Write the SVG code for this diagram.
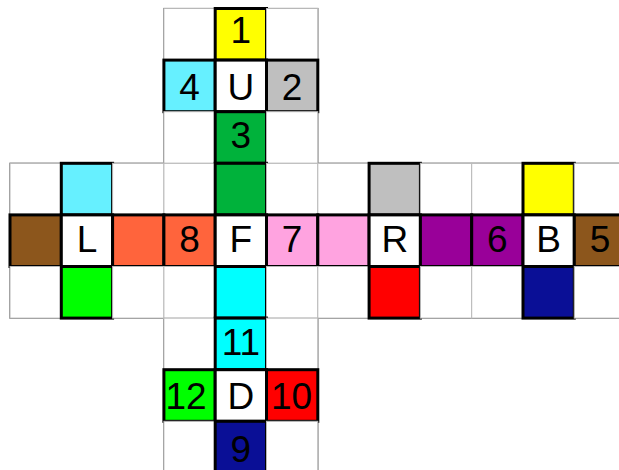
<svg xmlns="http://www.w3.org/2000/svg" width="619" height="470" viewBox="0 0 619 470">
<style>
.w{fill:#ffffff;stroke:#b8b8b8;stroke-width:1}
.c{stroke:#000;stroke-width:3}
.face{fill:none;stroke:#444;stroke-width:1.2}
text{font-family:"Liberation Sans",Arial,sans-serif;font-size:37px;fill:#000;text-anchor:middle}
.wc{fill:#fff}
.ye{fill:#ffff00}.lc{fill:#66f0ff}.gy{fill:#bfbfbf}.gr{fill:#00b23b}.br{fill:#8c561c}
.or{fill:#ff643c}.pk{fill:#ffa3e0}.pu{fill:#990099}.bg{fill:#00ff00}.cy{fill:#00ffff}
.rd{fill:#ff0000}.nv{fill:#0a0f96}
</style>
<g id="faces">
<rect class="face" x="163.9" y="8.5" width="153.9" height="154.8"/>
<rect class="face" x="10" y="163.3" width="615.6" height="154.8"/>
<rect class="face" x="163.9" y="318.1" width="153.9" height="154.8"/>
</g>
<!-- top face -->
<g id="u00"><rect class="w" x="163.9" y="8.5" width="51.3" height="51.6"/></g>
<g id="u01"><rect class="c ye" x="215.2" y="8.5" width="51.3" height="51.6"/><text x="240.85" y="42.5">1</text></g>
<g id="u02"><rect class="w" x="266.5" y="8.5" width="51.3" height="51.6"/></g>
<g id="u10"><rect class="c lc" x="163.9" y="60.1" width="51.3" height="51.6"/><text x="189.55" y="100">4</text></g>
<g id="u11"><rect class="c wc" x="215.2" y="60.1" width="51.3" height="51.6"/><text x="240.85" y="100">U</text></g>
<g id="u12"><rect class="c gy" x="266.5" y="60.1" width="51.3" height="51.6"/><text x="292.15" y="100">2</text></g>
<g id="u20"><rect class="w" x="163.9" y="111.7" width="51.3" height="51.6"/></g>
<g id="u21"><rect class="c gr" x="215.2" y="111.7" width="51.3" height="51.6"/><text x="240.85" y="148">3</text></g>
<g id="u22"><rect class="w" x="266.5" y="111.7" width="51.3" height="51.6"/></g>
<!-- row 3 -->
<g id="r3c0"><rect class="w" x="10" y="163.3" width="51.3" height="51.6"/></g>
<g id="r3c1"><rect class="c lc" x="61.3" y="163.3" width="51.3" height="51.6"/></g>
<g id="r3c2"><rect class="w" x="112.6" y="163.3" width="51.3" height="51.6"/></g>
<g id="r3c3"><rect class="w" x="163.9" y="163.3" width="51.3" height="51.6"/></g>
<g id="r3c4"><rect class="c gr" x="215.2" y="163.3" width="51.3" height="51.6"/></g>
<g id="r3c5"><rect class="w" x="266.5" y="163.3" width="51.3" height="51.6"/></g>
<g id="r3c6"><rect class="w" x="317.8" y="163.3" width="51.3" height="51.6"/></g>
<g id="r3c7"><rect class="c gy" x="369.1" y="163.3" width="51.3" height="51.6"/></g>
<g id="r3c8"><rect class="w" x="420.4" y="163.3" width="51.3" height="51.6"/></g>
<g id="r3c9"><rect class="w" x="471.7" y="163.3" width="51.3" height="51.6"/></g>
<g id="r3c10"><rect class="c ye" x="523" y="163.3" width="51.3" height="51.6"/></g>
<g id="r3c11"><rect class="w" x="574.3" y="163.3" width="51.3" height="51.6"/></g>
<!-- row 4 -->
<g id="r4c0"><rect class="c br" x="10" y="214.9" width="51.3" height="51.6"/></g>
<g id="r4c1"><rect class="c wc" x="61.3" y="214.9" width="51.3" height="51.6"/><text x="86.95" y="252">L</text></g>
<g id="r4c2"><rect class="c or" x="112.6" y="214.9" width="51.3" height="51.6"/></g>
<g id="r4c3"><rect class="c or" x="163.9" y="214.9" width="51.3" height="51.6"/><text x="189.55" y="252">8</text></g>
<g id="r4c4"><rect class="c wc" x="215.2" y="214.9" width="51.3" height="51.6"/><text x="240.85" y="252">F</text></g>
<g id="r4c5"><rect class="c pk" x="266.5" y="214.9" width="51.3" height="51.6"/><text x="292.15" y="252">7</text></g>
<g id="r4c6"><rect class="c pk" x="317.8" y="214.9" width="51.3" height="51.6"/></g>
<g id="r4c7"><rect class="c wc" x="369.1" y="214.9" width="51.3" height="51.6"/><text x="394.75" y="252">R</text></g>
<g id="r4c8"><rect class="c pu" x="420.4" y="214.9" width="51.3" height="51.6"/></g>
<g id="r4c9"><rect class="c pu" x="471.7" y="214.9" width="51.3" height="51.6"/><text x="497.35" y="252">6</text></g>
<g id="r4c10"><rect class="c wc" x="523" y="214.9" width="51.3" height="51.6"/><text x="548.65" y="252">B</text></g>
<g id="r4c11"><rect class="c br" x="574.3" y="214.9" width="51.3" height="51.6"/><text x="599.95" y="252">5</text></g>
<!-- row 5 -->
<g id="r5c0"><rect class="w" x="10" y="266.5" width="51.3" height="51.6"/></g>
<g id="r5c1"><rect class="c bg" x="61.3" y="266.5" width="51.3" height="51.6"/></g>
<g id="r5c2"><rect class="w" x="112.6" y="266.5" width="51.3" height="51.6"/></g>
<g id="r5c3"><rect class="w" x="163.9" y="266.5" width="51.3" height="51.6"/></g>
<g id="r5c4"><rect class="c cy" x="215.2" y="266.5" width="51.3" height="51.6"/></g>
<g id="r5c5"><rect class="w" x="266.5" y="266.5" width="51.3" height="51.6"/></g>
<g id="r5c6"><rect class="w" x="317.8" y="266.5" width="51.3" height="51.6"/></g>
<g id="r5c7"><rect class="c rd" x="369.1" y="266.5" width="51.3" height="51.6"/></g>
<g id="r5c8"><rect class="w" x="420.4" y="266.5" width="51.3" height="51.6"/></g>
<g id="r5c9"><rect class="w" x="471.7" y="266.5" width="51.3" height="51.6"/></g>
<g id="r5c10"><rect class="c nv" x="523" y="266.5" width="51.3" height="51.6"/></g>
<g id="r5c11"><rect class="w" x="574.3" y="266.5" width="51.3" height="51.6"/></g>
<!-- bottom face -->
<g id="d00"><rect class="w" x="163.9" y="318.1" width="51.3" height="51.6"/></g>
<g id="d01"><rect class="c cy" x="215.2" y="318.1" width="51.3" height="51.6"/><text x="240.85" y="355">11</text></g>
<g id="d02"><rect class="w" x="266.5" y="318.1" width="51.3" height="51.6"/></g>
<g id="d10"><rect class="c bg" x="163.9" y="369.7" width="51.3" height="51.6"/><text x="186" y="409">12</text></g>
<g id="d11"><rect class="c wc" x="215.2" y="369.7" width="51.3" height="51.6"/><text x="240.85" y="409">D</text></g>
<g id="d12"><rect class="c rd" x="266.5" y="369.7" width="51.3" height="51.6"/><text x="291.5" y="409">10</text></g>
<g id="d20"><rect class="w" x="163.9" y="421.3" width="51.3" height="51.6"/></g>
<g id="d21"><rect class="c nv" x="215.2" y="421.3" width="51.3" height="51.6"/><text x="240.85" y="462">9</text></g>
<g id="d22"><rect class="w" x="266.5" y="421.3" width="51.3" height="51.6"/></g>
</svg>
